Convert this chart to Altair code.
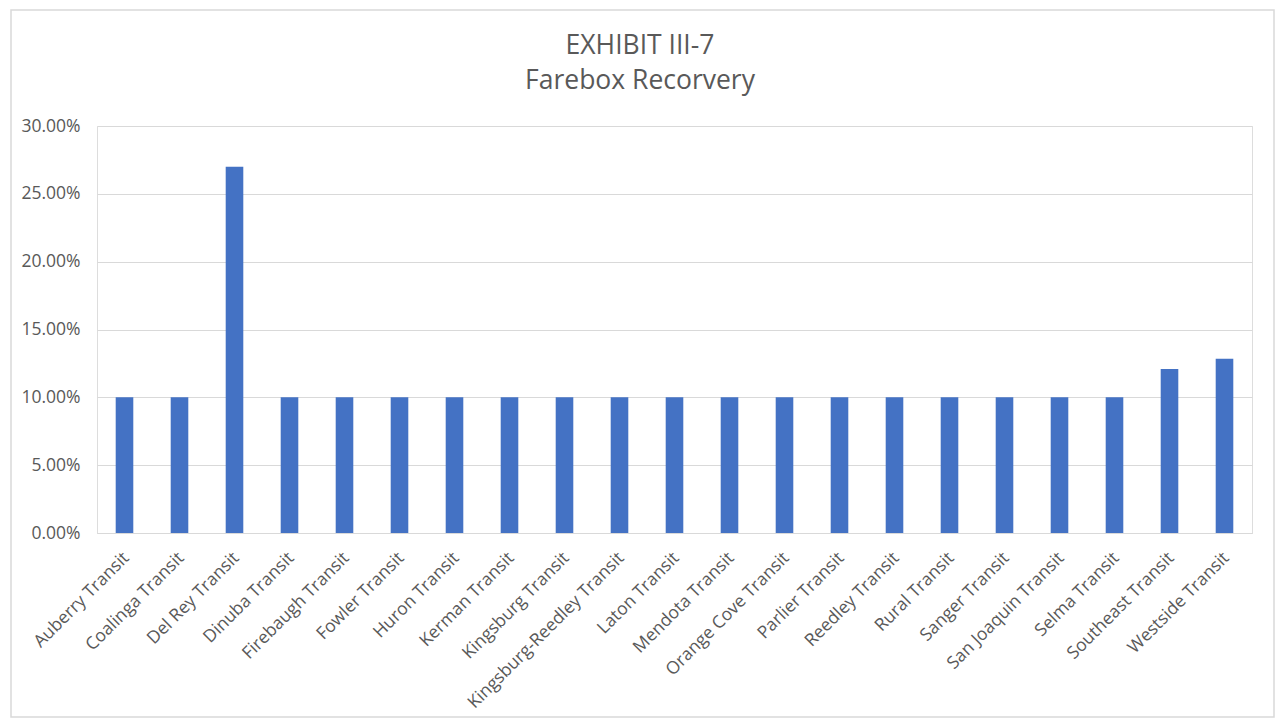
import altair as alt
import pandas as pd

categories = [
    "Auberry Transit", "Coalinga Transit", "Del Rey Transit", "Dinuba Transit",
    "Firebaugh Transit", "Fowler Transit", "Huron Transit", "Kerman Transit",
    "Kingsburg Transit", "Kingsburg-Reedley Transit", "Laton Transit",
    "Mendota Transit", "Orange Cove Transit", "Parlier Transit", "Reedley Transit",
    "Rural Transit", "Sanger Transit", "San Joaquin Transit", "Selma Transit",
    "Southeast Transit", "Westside Transit",
]
values = [
    0.10, 0.10, 0.2700, 0.10, 0.10, 0.10, 0.10, 0.10, 0.10, 0.10, 0.10,
    0.10, 0.10, 0.10, 0.10, 0.10, 0.10, 0.10, 0.10, 0.1208, 0.1285,
]
y_ticks = [0.0, 0.05, 0.10, 0.15, 0.20, 0.25, 0.30]
title_lines = ["EXHIBIT III-7", "Farebox Recorvery"]

df = pd.DataFrame({"cat": categories, "val": values})
one = pd.DataFrame({"k": [0]})

FONT = "Open Sans"
GREY = "#595959"

W, H = 1155, 407
PAD = {"left": 89, "top": 118, "right": 24, "bottom": 187}

bars = alt.Chart(df).mark_bar(color="#4472C4").encode(
    x=alt.X(
        "cat:N",
        sort=categories,
        title=None,
        scale=alt.Scale(paddingInner=0.68, paddingOuter=0.34),
        axis=alt.Axis(
            labelAngle=-45,
            labelAlign="right",
            labelBaseline="middle",
            labelFont=FONT,
            labelFontSize=17.5,
            labelColor=GREY,
            labelPadding=22,
            labelOffset=2,
            ticks=False,
            domain=True,
            domainColor="#D9D9D9",
            domainWidth=1,
            labelLimit=400,
        ),
    ),
    y=alt.Y(
        "val:Q",
        title=None,
        scale=alt.Scale(domain=[0, 0.30], nice=False),
        axis=alt.Axis(
            values=y_ticks,
            format=".2%",
            labelFont=FONT,
            labelFontSize=17.5,
            labelColor=GREY,
            labelPadding=17,
            ticks=False,
            domain=False,
            gridColor="#D9D9D9",
            gridWidth=1,
        ),
    ),
)

frame = alt.Chart(one).mark_rect(
    fill=None, stroke="#D9D9D9", strokeWidth=1.5
).encode(
    x=alt.value(-86),
    x2=alt.value(W + 22),
    y=alt.value(-116),
    y2=alt.value(H + 184),
)

title1 = alt.Chart(one).mark_text(
    font=FONT, fontSize=26.5, color=GREY, align="center", baseline="middle"
).encode(x=alt.value(543), y=alt.value(-80), text=alt.value(title_lines[0]))

title2 = alt.Chart(one).mark_text(
    font=FONT, fontSize=26.5, color=GREY, align="center", baseline="middle"
).encode(x=alt.value(543), y=alt.value(-45), text=alt.value(title_lines[1]))

chart = alt.layer(frame, bars, title1, title2).properties(
    width=W,
    height=H,
    padding=PAD,
    autosize=alt.AutoSizeParams(type="none"),
).configure_view(stroke=None).configure(background="white")

chart.save("out.html", embed_options={"renderer": "svg", "actions": False})
